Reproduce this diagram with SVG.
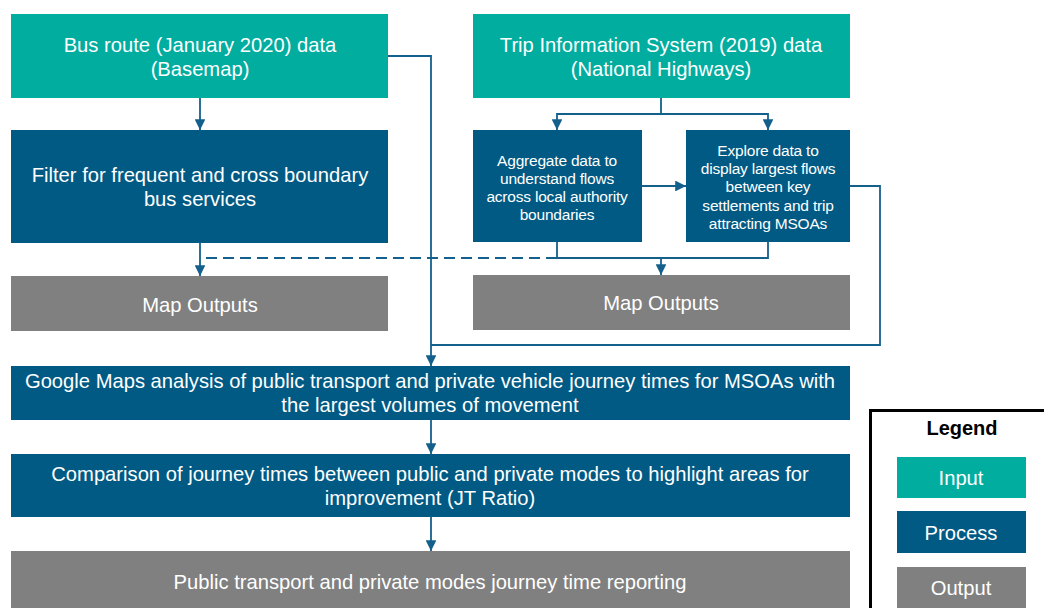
<svg xmlns="http://www.w3.org/2000/svg" width="1044" height="608" viewBox="0 0 1044 608">
  <style>
    .input { fill: #00ad9f; }
    .process { fill: #005a84; }
    .output { fill: #808080; }
    .t { font-family: "Liberation Sans", Arial, sans-serif; fill: #ffffff; text-anchor: middle; }
    .big { font-size: 20.2px; }
    .small { font-size: 15.5px; letter-spacing: -0.2px; }
    .link { fill: none; stroke: #14608c; stroke-width: 1.8; }
    .dash { stroke-dasharray: 11 6; }
  </style>
  <defs>
    <marker id="arrow" viewBox="0 0 10 10" refX="10" refY="5" markerWidth="6" markerHeight="6" orient="auto" markerUnits="strokeWidth">
      <path d="M0,0 L10,5 L0,10 z" fill="#14608c"/>
    </marker>
  </defs>

  <rect width="1044" height="608" fill="#ffffff"/>

  <!-- connectors -->
  <g id="connectors">
    <line class="link" x1="200" y1="98" x2="200" y2="130" marker-end="url(#arrow)"/>
    <line class="link" x1="200" y1="243" x2="200" y2="276" marker-end="url(#arrow)"/>
    <line class="link dash" x1="557" y1="258" x2="204" y2="258"/>
    <polyline class="link" points="388,56 431,56 431,366" marker-end="url(#arrow)"/>
    <polyline class="link" points="661,98 661,114 557,114 557,130" marker-end="url(#arrow)"/>
    <polyline class="link" points="661,114 768,114 768,130" marker-end="url(#arrow)"/>
    <line class="link" x1="642" y1="186" x2="686" y2="186" marker-end="url(#arrow)"/>
    <polyline class="link" points="557,242 557,258 768,258 768,242"/>
    <line class="link" x1="661" y1="258" x2="661" y2="275" marker-end="url(#arrow)"/>
    <polyline class="link" points="850,186 880,186 880,345 431,345"/>
    <line class="link" x1="431" y1="420" x2="431" y2="454" marker-end="url(#arrow)"/>
    <line class="link" x1="431" y1="517" x2="431" y2="551" marker-end="url(#arrow)"/>
  </g>

  <!-- nodes -->
  <g id="bus-route">
    <rect class="input" x="11" y="14" width="377" height="84"/>
    <text class="t big" x="200" y="52">Bus route (January 2020) data</text>
    <text class="t big" x="200" y="76">(Basemap)</text>
  </g>

  <g id="filter">
    <rect class="process" x="11" y="130" width="377" height="113"/>
    <text class="t big" x="200" y="182">Filter for frequent and cross boundary</text>
    <text class="t big" x="200" y="206">bus services</text>
  </g>

  <g id="map-outputs-left">
    <rect class="output" x="11" y="276" width="377" height="55"/>
    <text class="t big" x="200" y="312">Map Outputs</text>
  </g>

  <g id="trip-info">
    <rect class="input" x="473" y="14" width="377" height="84"/>
    <text class="t big" x="661" y="52">Trip Information System (2019) data</text>
    <text class="t big" x="661" y="76">(National Highways)</text>
  </g>

  <g id="aggregate">
    <rect class="process" x="473" y="130" width="169" height="112"/>
    <text class="t small" x="557" y="166">Aggregate data to</text>
    <text class="t small" x="557" y="184">understand flows</text>
    <text class="t small" x="557" y="202">across local authority</text>
    <text class="t small" x="557" y="220">boundaries</text>
  </g>

  <g id="explore">
    <rect class="process" x="686" y="130" width="164" height="112"/>
    <text class="t small" x="768" y="156">Explore data to</text>
    <text class="t small" x="768" y="174">display largest flows</text>
    <text class="t small" x="768" y="192">between key</text>
    <text class="t small" x="768" y="211">settlements and trip</text>
    <text class="t small" x="768" y="229">attracting MSOAs</text>
  </g>

  <g id="map-outputs-right">
    <rect class="output" x="473" y="275" width="377" height="55"/>
    <text class="t big" x="661" y="310">Map Outputs</text>
  </g>

  <g id="google-maps">
    <rect class="process" x="11" y="366" width="839" height="54"/>
    <text class="t big" x="430" y="388">Google Maps analysis of public transport and private vehicle journey times for MSOAs with</text>
    <text class="t big" x="430" y="412">the largest volumes of movement</text>
  </g>

  <g id="comparison">
    <rect class="process" x="11" y="454" width="839" height="63"/>
    <text class="t big" x="430" y="481">Comparison of journey times between public and private modes to highlight areas for</text>
    <text class="t big" x="430" y="505">improvement (JT Ratio)</text>
  </g>

  <g id="reporting">
    <rect class="output" x="11" y="551" width="839" height="62"/>
    <text class="t big" x="430" y="589">Public transport and private modes journey time reporting</text>
  </g>

  <g id="legend">
    <rect x="870.5" y="410.5" width="180" height="205" fill="#ffffff" stroke="#000000" stroke-width="3"/>
    <text x="962" y="435" font-family="Liberation Sans, Arial, sans-serif" font-size="20px" font-weight="bold" fill="#000000" text-anchor="middle">Legend</text>
    <rect class="input" x="897" y="457" width="129" height="41"/>
    <text class="t big" x="961" y="485">Input</text>
    <rect class="process" x="897" y="511" width="129" height="42"/>
    <text class="t big" x="961" y="540">Process</text>
    <rect class="output" x="897" y="567" width="129" height="45"/>
    <text class="t big" x="961" y="595">Output</text>
  </g>
</svg>
